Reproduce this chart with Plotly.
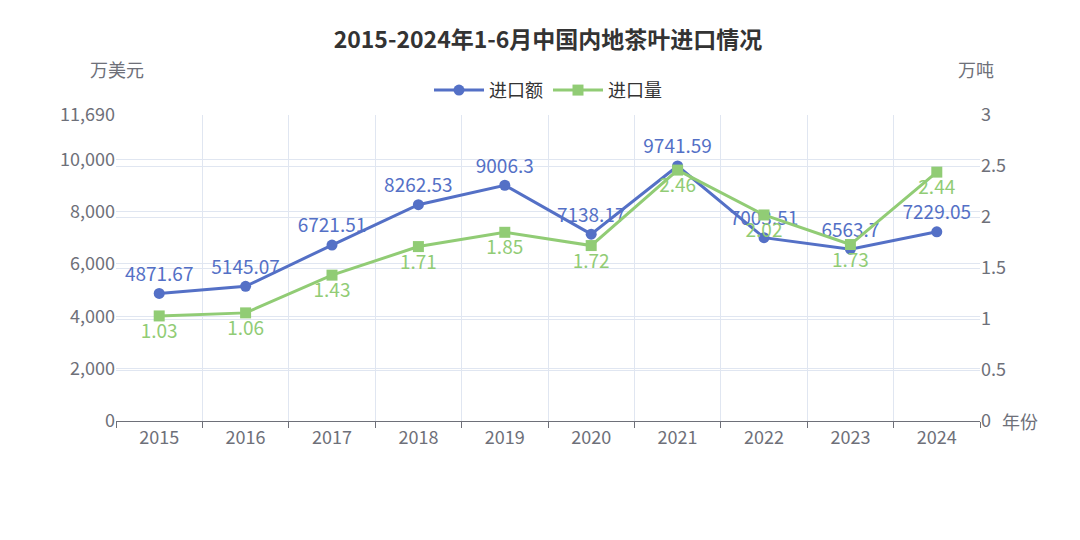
import plotly.graph_objects as go

# 数据
years = ["2015", "2016", "2017", "2018", "2019", "2020", "2021", "2022", "2023", "2024"]
jinkou_e = [4871.67, 5145.07, 6721.51, 8262.53, 9006.3, 7138.17, 9741.59, 7003.51, 6563.7, 7229.05]
jinkou_liang = [1.03, 1.06, 1.43, 1.71, 1.85, 1.72, 2.46, 2.02, 1.73, 2.44]
left_ticks = [0, 2000, 4000, 6000, 8000, 10000, 11690]
right_ticks = [0, 0.5, 1, 1.5, 2, 2.5, 3]

xs = list(range(len(years)))
grey = "#6e7079"
font = "Noto Sans CJK SC"

fig = go.Figure()

fig.add_trace(go.Scatter(
    x=xs, y=jinkou_e, name="进口额", mode="lines+markers+text",
    line=dict(color="#5470c6", width=3), marker=dict(size=11, symbol="circle"),
    text=[str(v) for v in jinkou_e], textposition="top center",
    textfont=dict(size=19, color="#5470c6"), cliponaxis=False
))
fig.add_trace(go.Scatter(
    x=xs, y=jinkou_liang, name="进口量", mode="lines+markers+text", yaxis="y2",
    line=dict(color="#91cc75", width=3), marker=dict(size=11, symbol="square"),
    text=[str(v) for v in jinkou_liang], textposition="bottom center",
    textfont=dict(size=19, color="#91cc75"), cliponaxis=False
))

fig.update_layout(
    width=1080, height=540,
    font=dict(family=font, color=grey, size=18),
    plot_bgcolor="white", paper_bgcolor="white",
    margin=dict(l=108, r=108, t=107, b=127),
    title=dict(text="<b>2015-2024年1-6月中国内地茶叶进口情况</b>", x=0.5, y=0.955,
               xanchor="center", font=dict(size=23, color="#333")),
    legend=dict(orientation="h", x=0.5, xanchor="center", y=1.02, yanchor="bottom",
                font=dict(size=18, color="#333"), itemwidth=50),
    showlegend=True,
    xaxis=dict(range=[-0.5, 9.5], tickvals=xs, ticktext=years, showgrid=False,
               showline=True, linecolor=grey, ticks="", zeroline=False, automargin=False,
               tickfont=dict(size=18, color=grey),
               minor=dict(tickvals=[i - 0.5 for i in range(11)], showgrid=True,
                          gridcolor="#e0e6f1", ticks="outside", ticklen=6, tickcolor=grey)),
    yaxis=dict(range=[0, 11690], tickvals=left_ticks, ticktext=[f"{v:,}" for v in left_ticks],
               gridcolor="#e0e6f1", zeroline=False, showline=False, automargin=False,
               tickfont=dict(size=18)),
    yaxis2=dict(range=[0, 3], tickvals=right_ticks, ticktext=[str(v) for v in right_ticks],
                overlaying="y", side="right", gridcolor="#e0e6f1", zeroline=False,
                showline=False, automargin=False, tickfont=dict(size=18)),
    annotations=[
        dict(text="万美元", xref="paper", yref="paper", x=0, y=1.1, xanchor="right",
             yanchor="bottom", showarrow=False, font=dict(size=18, color=grey), xshift=30),
        dict(text="万吨", xref="paper", yref="paper", x=1, y=1.1, xanchor="left",
             yanchor="bottom", showarrow=False, font=dict(size=18, color=grey), xshift=-24),
        dict(text="年份", xref="paper", yref="paper", x=1, y=0, xanchor="left",
             yanchor="middle", showarrow=False, font=dict(size=18, color=grey), xshift=20),
    ],
)

fig.write_html("out.html")
